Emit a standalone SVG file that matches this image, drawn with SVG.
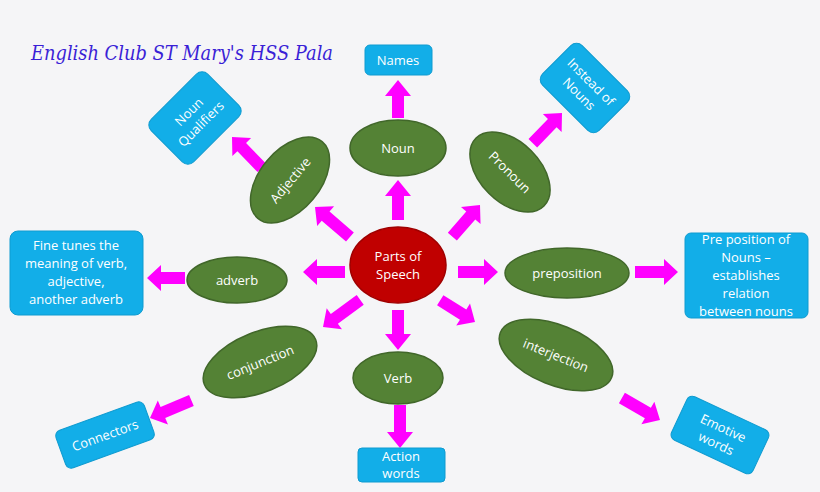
<svg xmlns="http://www.w3.org/2000/svg" width="820" height="492" viewBox="0 0 820 492">
<style>
.g{fill:#548235;stroke:#41672a;stroke-width:1.5}
.b{fill:#12aee8;stroke:#0f9bd0;stroke-width:1}
.t{font-family:"Open Sans","Liberation Sans",sans-serif;font-size:13px;fill:#fff;text-anchor:middle}
.a{fill:#ff00ff}
</style>
<rect width="820" height="492" fill="#f5f5f7"/>
<text x="31" y="60" font-family="'DejaVu Serif',serif" font-style="italic" font-size="20" fill="#3a1fd6" textLength="302" lengthAdjust="spacingAndGlyphs">English Club  ST Mary's HSS Pala</text>
<g id="connectors" class="a">
<polygon points="392,220 392,196 385,196 398,180 411,196 404,196 404,220"/>
<polygon points="392,118 392,96 385,96 398,80 411,96 404,96 404,118"/>
<g transform="translate(315,207) rotate(40.6)"><polygon points="0,0 14,-13 14,-6 46,-6 46,6 14,6 14,13"/></g>
<g transform="translate(232,137) rotate(46)"><polygon points="0,0 14,-13 14,-6 43,-6 43,6 14,6 14,13"/></g>
<g transform="translate(480,205) rotate(-48.8)"><polygon points="0,0 14,-13 14,-6 42,-6 42,6 14,6 14,13" transform="scale(-1,1)"/></g>
<g transform="translate(562,113) rotate(-46)"><polygon points="0,0 14,-13 14,-6 42,-6 42,6 14,6 14,13" transform="scale(-1,1)"/></g>
<g transform="translate(303,272)"><polygon points="0,0 14,-13 14,-6 42,-6 42,6 14,6 14,13"/></g>
<g transform="translate(147,278)"><polygon points="0,0 14,-13 14,-6 38,-6 38,6 14,6 14,13"/></g>
<g transform="translate(498,272)"><polygon points="0,0 -14,-13 -14,-6 -40,-6 -40,6 -14,6 -14,13"/></g>
<g transform="translate(678,272)"><polygon points="0,0 -14,-13 -14,-6 -43,-6 -43,6 -14,6 -14,13"/></g>
<g transform="translate(323,327) rotate(-36)"><polygon points="0,0 14,-13 14,-6 46,-6 46,6 14,6 14,13"/></g>
<g transform="translate(150,418) rotate(-23)"><polygon points="0,0 14,-13 14,-6 45,-6 45,6 14,6 14,13"/></g>
<polygon points="392,310 392,334 385,334 398,350 411,334 404,334 404,310"/>
<polygon points="394,405 394,432 387,432 400,448 413,432 406,432 406,405"/>
<g transform="translate(475,322) rotate(32)"><polygon points="0,0 -14,-13 -14,-6 -41,-6 -41,6 -14,6 -14,13"/></g>
<g transform="translate(660,420) rotate(30)"><polygon points="0,0 -14,-13 -14,-6 -44,-6 -44,6 -14,6 -14,13"/></g>
</g>
<g id="center"><ellipse cx="398" cy="265" rx="48" ry="38" fill="#c00000" stroke="#a00000" stroke-width="1.5"/><text class="t" x="398" y="261">Parts of</text><text class="t" x="398" y="279">Speech</text></g>
<g id="noun"><ellipse class="g" cx="398" cy="148" rx="48" ry="28"/><text class="t" x="398" y="153">Noun</text></g>
<g id="adjective" transform="translate(290,180) rotate(-50)"><ellipse class="g" rx="50" ry="30"/><text class="t" y="5">Adjective</text></g>
<g id="pronoun" transform="translate(510,172) rotate(45)"><ellipse class="g" rx="48" ry="30"/><text class="t" y="5">Pronoun</text></g>
<g id="adverb"><ellipse class="g" cx="237" cy="280" rx="50" ry="23"/><text class="t" x="237" y="285">adverb</text></g>
<g id="preposition"><ellipse class="g" cx="567" cy="273" rx="62" ry="25"/><text class="t" x="567" y="278">preposition</text></g>
<g id="conjunction" transform="translate(260,362) rotate(-22)"><ellipse class="g" rx="60" ry="30"/><text class="t" y="5">conjunction</text></g>
<g id="verb"><ellipse class="g" cx="398" cy="378" rx="45" ry="26"/><text class="t" x="398" y="383">Verb</text></g>
<g id="interjection" transform="translate(556,355) rotate(22)"><ellipse class="g" rx="60" ry="30"/><text class="t" y="5">interjection</text></g>
<g id="names"><rect class="b" x="365" y="45" width="67" height="30" rx="5"/><text class="t" x="398" y="65">Names</text></g>
<g id="qualifiers" transform="translate(195,118) rotate(-45)"><rect class="b" x="-40" y="-30" width="80" height="60" rx="8"/><text class="t" y="-4">Noun</text><text class="t" y="13">Qualifiers</text></g>
<g id="instead" transform="translate(585,88) rotate(45)"><rect class="b" x="-40" y="-28" width="80" height="56" rx="8"/><text class="t" y="-4">Instead of</text><text class="t" y="13">Nouns</text></g>
<g id="finetunes"><rect class="b" x="10" y="231" width="133" height="84" rx="8"/><text class="t" x="76" y="250">Fine tunes the</text><text class="t" x="76" y="268">meaning of verb,</text><text class="t" x="76" y="286">adjective,</text><text class="t" x="76" y="304">another adverb</text></g>
<g id="prepbox"><rect class="b" x="685" y="233" width="123" height="85" rx="6"/><text class="t" x="746" y="244">Pre position of</text><text class="t" x="746" y="262">Nouns –</text><text class="t" x="746" y="280">establishes</text><text class="t" x="746" y="298">relation</text><text class="t" x="746" y="316">between nouns</text></g>
<g id="connectorsbox" transform="translate(105,435) rotate(-20)"><rect class="b" x="-47" y="-20" width="94" height="40" rx="6"/><text class="t" y="5">Connectors</text></g>
<g id="action"><rect class="b" x="358" y="448" width="87" height="34" rx="4"/><text class="t" x="401" y="461">Action</text><text class="t" x="401" y="478">words</text></g>
<g id="emotive" transform="translate(720,435) rotate(25)"><rect class="b" x="-45" y="-24" width="90" height="48" rx="6"/><text class="t" y="-3">Emotive</text><text class="t" y="14">words</text></g>
</svg>
